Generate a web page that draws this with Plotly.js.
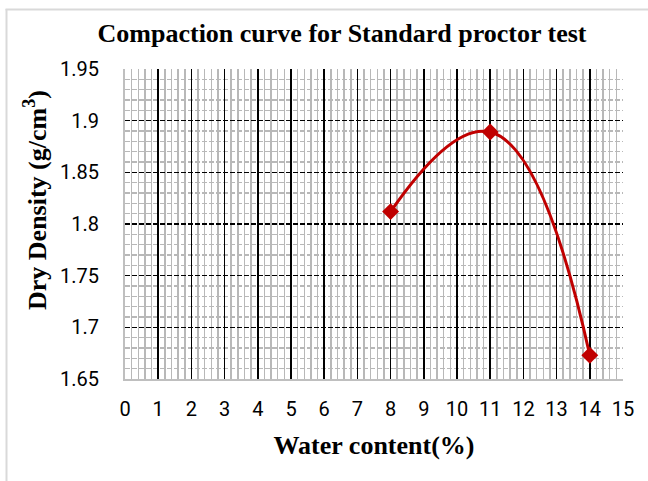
<!DOCTYPE html>
<html>
<head>
<meta charset="utf-8">
<script src="https://cdn.plot.ly/plotly-3.0.1.min.js"></script>
<style>
  html, body { margin: 0; padding: 0; background: #ffffff; }
  #chart { width: 648px; height: 481px; }
</style>
</head>
<body>
<div id="chart"></div>
<script>
// Data
const waterContent = [8, 11, 14];          // %
const dryDensity   = [1.812, 1.889, 1.673]; // g/cm3
const xTickVals = [0, 1, 2, 3, 4, 5, 6, 7, 8, 9, 10, 11, 12, 13, 14, 15];
const yTickVals = [1.65, 1.7, 1.75, 1.8, 1.85, 1.9, 1.95];
const yTickText = ['1.65', '1.7', '1.75', '1.8', '1.85', '1.9', '1.95'];

const chartTitle = 'Compaction curve for Standard proctor test';
const xTitle = 'Water content(%)';
const yTitle = 'Dry Density (g/cm<sup>3</sup>)';

const red = '#c00000';
const serif = '"Liberation Serif", "Times New Roman", serif';
const sans = 'Roboto, "Liberation Sans", sans-serif';

const trace = {
  x: waterContent,
  y: dryDensity,
  type: 'scatter',
  mode: 'lines+markers',
  line: { color: red, width: 3, shape: 'spline', smoothing: 1.3 },
  marker: { symbol: 'diamond', size: 13, color: red },
  hoverinfo: 'x+y',
  showlegend: false
};

// plot area in pixels: x 125..623, y 69..379
const L = 125, R = 623, T = 69, B = 379, W = 648, H = 481;
const px = v => (v - L) / (R - L);
const py = v => (B - v) / (B - T);

const layout = {
  width: W,
  height: H,
  margin: { l: L, r: W - R, t: T, b: H - B, pad: 0 },
  paper_bgcolor: '#ffffff',
  plot_bgcolor: '#ffffff',
  title: {
    text: '<b>' + chartTitle + '</b>',
    font: { family: serif, size: 26, color: '#000000' },
    xref: 'paper', x: px(342), xanchor: 'center',
    yref: 'container', y: 1 - 33 / H, yanchor: 'middle'
  },
  xaxis: {
    range: [0, 15],
    tickmode: 'array',
    tickvals: xTickVals,
    ticks: '',
    showgrid: true,
    gridcolor: '#000000',
    gridwidth: 1.5,
    zeroline: false,
    showline: true,
    linecolor: '#bfbfbf',
    linewidth: 2,
    mirror: false,
    tickfont: { family: sans, size: 20, color: '#000000' },
    ticklabelstandoff: 11,
    minor: { dtick: 0.2, showgrid: true, gridcolor: '#b8b8b8', gridwidth: 1.5, ticks: '' },
    title: {
      text: '<b>' + xTitle + '</b>',
      font: { family: serif, size: 26, color: '#000000' },
      standoff: 16
    },
    fixedrange: true
  },
  yaxis: {
    range: [1.65, 1.95],
    tickmode: 'array',
    tickvals: yTickVals,
    ticktext: yTickText,
    ticks: '',
    showgrid: true,
    gridcolor: '#000000',
    gridwidth: 1.5,
    griddash: '5px,2px',
    zeroline: false,
    showline: true,
    linecolor: '#bfbfbf',
    linewidth: 2,
    tickfont: { family: sans, size: 20, color: '#000000' },
    ticklabelstandoff: 20,
    minor: { dtick: 0.01, showgrid: true, gridcolor: '#b8b8b8', gridwidth: 1.5, ticks: '' },
    fixedrange: true
  },
  annotations: [
    {
      text: '<b>' + yTitle + '</b>',
      textangle: -90,
      font: { family: serif, size: 26, color: '#000000' },
      xref: 'paper', x: px(35), xanchor: 'center',
      yref: 'paper', y: py(200), yanchor: 'middle',
      showarrow: false
    }
  ],
  shapes: [
    { type: 'line', xref: 'paper', yref: 'paper',
      x0: px(6.5), x1: px(6.5), y0: py(9), y1: py(490),
      line: { color: '#d9d9d9', width: 2 } },
    { type: 'line', xref: 'paper', yref: 'paper',
      x0: px(5.5), x1: px(660), y0: py(9.5), y1: py(9.5),
      line: { color: '#d9d9d9', width: 2 } }
  ]
};

Plotly.newPlot('chart', [trace], layout, { displayModeBar: false, staticPlot: true });
</script>
</body>
</html>
